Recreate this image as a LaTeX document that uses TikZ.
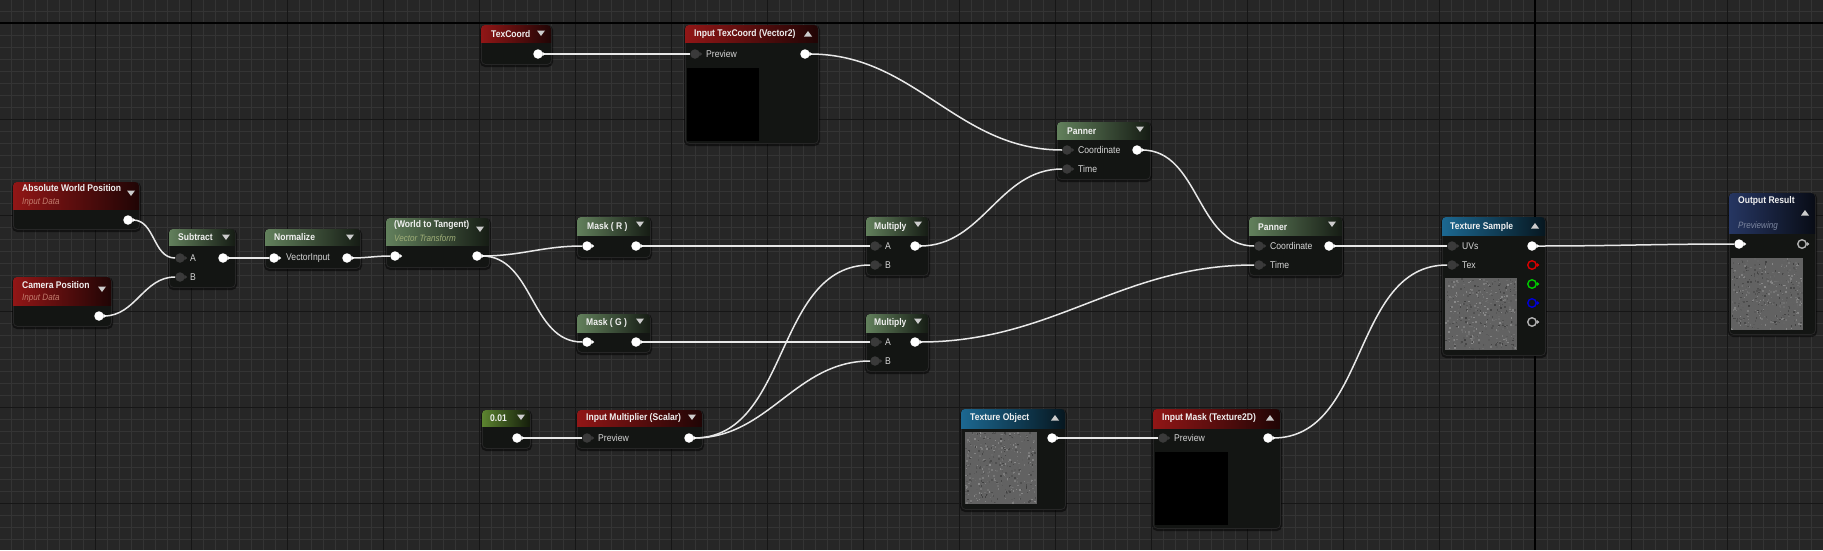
\documentclass[tikz,border=0pt]{standalone}
\usepackage{fontspec}
\setmainfont[FakeStretch=0.88]{Liberation Sans}

\definecolor{canvas}{RGB}{38,38,38}
\definecolor{gridminor}{RGB}{52,52,52}
\definecolor{gridmajor}{RGB}{22,22,22}
\definecolor{body}{RGB}{19,21,19}
\definecolor{hdrred}{RGB}{145,22,22}
\definecolor{hdrgreen}{RGB}{98,128,92}
\definecolor{hdrolive}{RGB}{92,132,48}
\definecolor{hdrblue}{RGB}{28,104,145}
\definecolor{hdrnavy}{RGB}{38,54,98}
\definecolor{pinoff}{RGB}{58,58,58}
\definecolor{wirec}{RGB}{232,232,232}
\definecolor{labelc}{RGB}{215,215,215}
\definecolor{titlec}{RGB}{240,240,240}
\definecolor{subred}{RGB}{195,125,110}
\definecolor{subgreen}{RGB}{160,175,120}
\definecolor{subnavy}{RGB}{125,135,160}
\definecolor{noise}{RGB}{98,98,98}

\tikzset{
  uebody/.style={draw=black!85, fill=body, rounded corners=4, inner sep=0, line width=0.8},
  ttl/.style={anchor=west, inner sep=0, text=titlec, font=\fontsize{9.7}{10}\selectfont\bfseries},
  subttl/.style={anchor=west, inner sep=0, font=\fontsize{9.2}{10}\selectfont\itshape},
  lbl/.style={anchor=west, inner sep=0, text=labelc, font=\fontsize{9.8}{10}\selectfont},
  pinon/.style={circle, fill=white, inner sep=0, minimum size=9.5},
  pinoff/.style={circle, fill=pinoff, inner sep=0, minimum size=9.5},
  pinring/.style={circle, draw=#1, fill=body, line width=1.4, inner sep=0, minimum size=8.5},
  wire/.style={draw=wirec, line width=1.5},
}

% node box: id, x1, y1, x2, y2, header bottom, header colour
\newcommand{\matbox}[7]{%
  \fill[black, opacity=0.5, rounded corners=5] (#2-1,#3) rectangle (#4+2,#5+3);
  \node[uebody, anchor=north west, minimum width=#4-#2, minimum height=#5-#3] (#1) at (#2,#3) {};
  \begin{scope}
    \clip[rounded corners=4] (#2,#3) rectangle (#4,#5);
    \shade[left color=#7, right color=#7!22!black] (#2,#3) rectangle (#4,#6);
  \end{scope}}
\newcommand{\hdrdown}[2]{\fill[black!20] (#1-4,#2-2.5) -- (#1+4,#2-2.5) -- (#1,#2+3) -- cycle;}
\newcommand{\hdrup}[2]{\fill[black!20] (#1-4,#2+2.5) -- (#1+4,#2+2.5) -- (#1,#2-3) -- cycle;}
% noisy texture preview, top left corner
\newcommand{\noisebox}[2]{%
  \fill[noise] (#1,#2) rectangle (#1+72,#2+72);
  \foreach \i in {1,...,420} {
    \pgfmathsetmacro{\nx}{#1+rnd*70.5}
    \pgfmathsetmacro{\ny}{#2+rnd*70.5}
    \pgfmathtruncatemacro{\nv}{65+rnd*75}
    \definecolor{nz}{RGB}{\nv,\nv,\nv}
    \fill[nz] (\nx,\ny) rectangle ++(1.5,1.5);
  }}

\begin{document}
\begin{tikzpicture}[x=1pt, y=-1pt]
  \useasboundingbox (0,0) rectangle (1823,550);
  \fill[canvas] (0,0) rectangle (1823,550);
  \pgfmathsetseed{11}

  % grid
  \foreach \gx in {11,23,...,1823} \draw[gridminor, line width=1] (\gx,0) -- (\gx,550);
  \foreach \gy in {11,23,...,550} \draw[gridminor, line width=1] (0,\gy) -- (1823,\gy);
  \foreach \gx in {95,191,...,1823} \draw[gridmajor, line width=1] (\gx,0) -- (\gx,550);
  \foreach \gy in {23,119,...,550} \draw[gridmajor, line width=1] (0,\gy) -- (1823,\gy);
  \draw[black, line width=1.6] (1535,0) -- (1535,550);
  \draw[black, line width=1.6] (0,23) -- (1823,23);

  % boxes
  \matbox{awp}{13}{182}{139}{229}{209}{hdrred}
  \matbox{cam}{13}{277}{111}{326}{305}{hdrred}
  \matbox{sub}{169}{229}{235}{287}{245}{hdrgreen}
  \matbox{norm}{265}{229}{360}{268}{245}{hdrgreen}
  \matbox{w2t}{386}{218}{489}{267}{245}{hdrgreen}
  \matbox{texc}{481}{25}{551}{64}{42}{hdrred}
  \matbox{itc}{685}{25}{818}{143}{42}{hdrred}
  \matbox{pan1}{1057}{122}{1150}{179}{139}{hdrgreen}
  \matbox{pan2}{1249}{217}{1342}{275}{235}{hdrgreen}
  \matbox{mr}{577}{217}{650}{257}{235}{hdrgreen}
  \matbox{mg}{577}{314}{650}{352}{332}{hdrgreen}
  \matbox{mul1}{866}{217}{928}{275}{235}{hdrgreen}
  \matbox{mul2}{866}{314}{928}{371}{332}{hdrgreen}
  \matbox{cst}{482}{410}{530}{448}{426}{hdrolive}
  \matbox{imul}{577}{410}{702}{448}{426}{hdrred}
  \matbox{tobj}{961}{409}{1065}{509}{428}{hdrblue}
  \matbox{imask}{1153}{409}{1280}{528}{428}{hdrred}
  \matbox{ts}{1442}{217}{1545}{355}{235}{hdrblue}
  \matbox{outr}{1729}{193}{1815}{334}{233}{hdrnavy}

  % titles
  \node[ttl] (awp-t) at (22,188) {Absolute World Position};
  \node[subttl, text=subred] (awp-s) at (22,202) {Input Data};
  \node[ttl] (cam-t) at (22,285) {Camera Position};
  \node[subttl, text=subred] (cam-s) at (22,298) {Input Data};
  \node[ttl] (sub-t) at (178,237) {Subtract};
  \node[ttl] (norm-t) at (274,237) {Normalize};
  \node[ttl] (w2t-t) at (394,225) {(World to Tangent)};
  \node[subttl, text=subgreen] (w2t-s) at (394,238) {Vector Transform};
  \node[ttl] (texc-t) at (491,34) {TexCoord};
  \node[ttl] (itc-t) at (694,34) {Input TexCoord (Vector2)};
  \node[ttl] (pan1-t) at (1067,131) {Panner};
  \node[ttl] (pan2-t) at (1258,227) {Panner};
  \node[ttl] (mr-t) at (587,227) {Mask ( R )};
  \node[ttl] (mg-t) at (586,323) {Mask ( G )};
  \node[ttl] (mul1-t) at (874,227) {Multiply};
  \node[ttl] (mul2-t) at (874,323) {Multiply};
  \node[ttl] (cst-t) at (490,418) {0.01};
  \node[ttl] (imul-t) at (586,418) {Input Multiplier (Scalar)};
  \node[ttl] (tobj-t) at (970,418) {Texture Object};
  \node[ttl] (imask-t) at (1162,418) {Input Mask (Texture2D)};
  \node[ttl] (ts-t) at (1450,227) {Texture Sample};
  \node[ttl] (outr-t) at (1738,201) {Output Result};
  \node[subttl, text=subnavy] (outr-s) at (1738,226) {Previewing};

  % header triangles
  \hdrdown{131}{193} \hdrdown{102}{289} \hdrdown{226}{237} \hdrdown{350}{237}
  \hdrdown{480}{229} \hdrdown{541}{33} \hdrdown{1140}{129} \hdrdown{1332}{224}
  \hdrdown{640}{224} \hdrdown{640}{321} \hdrdown{918}{224} \hdrdown{918}{321}
  \hdrdown{521}{417} \hdrdown{692}{417}
  \hdrup{808}{34} \hdrup{1535}{226} \hdrup{1805}{213} \hdrup{1055}{418} \hdrup{1270}{418}

  % previews
  \fill[black] (687,68) rectangle (759,141);
  \fill[black] (1155,452) rectangle (1228,525);
  \noisebox{965}{432}
  \noisebox{1445}{278}
  \noisebox{1731}{258}

  % pin labels
  \node[lbl] (sub-la) at (190,258) {A};
  \node[lbl] (sub-lb) at (190,277) {B};
  \node[lbl] (norm-l) at (286,258) {VectorInput};
  \node[lbl] (itc-l) at (706,54) {Preview};
  \node[lbl] (mul1-la) at (885,246) {A};
  \node[lbl] (mul1-lb) at (885,265) {B};
  \node[lbl] (mul2-la) at (885,342) {A};
  \node[lbl] (mul2-lb) at (885,361) {B};
  \node[lbl] (imul-l) at (598,438) {Preview};
  \node[lbl] (pan1-lc) at (1078,150) {Coordinate};
  \node[lbl] (pan1-lt) at (1078,169) {Time};
  \node[lbl] (pan2-lc) at (1270,246) {Coordinate};
  \node[lbl] (pan2-lt) at (1270,265) {Time};
  \node[lbl] (ts-luv) at (1462,246) {UVs};
  \node[lbl] (ts-ltex) at (1462,265) {Tex};
  \node[lbl] (imask-l) at (1174,438) {Preview};

  % pins
  \node[pinon] (awp-o) at (128,220) {};
  \node[pinon] (cam-o) at (99,316) {};
  \node[pinoff] (sub-a) at (180,258) {};
  \node[pinoff] (sub-b) at (180,277) {};
  \node[pinon] (sub-o) at (223,258) {};
  \node[pinon] (norm-i) at (274,258) {};
  \node[pinon] (norm-o) at (347,258) {};
  \node[pinon] (w2t-i) at (395,256) {};
  \node[pinon] (w2t-o) at (477,256) {};
  \node[pinon] (texc-o) at (538,54) {};
  \node[pinoff] (itc-p) at (695,54) {};
  \node[pinon] (itc-o) at (805,54) {};
  \node[pinon] (mr-i) at (587,246) {};
  \node[pinon] (mr-o) at (636,246) {};
  \node[pinon] (mg-i) at (587,342) {};
  \node[pinon] (mg-o) at (636,342) {};
  \node[pinoff] (mul1-a) at (875,246) {};
  \node[pinoff] (mul1-b) at (875,265) {};
  \node[pinon] (mul1-o) at (915,246) {};
  \node[pinoff] (mul2-a) at (875,342) {};
  \node[pinoff] (mul2-b) at (875,361) {};
  \node[pinon] (mul2-o) at (915,342) {};
  \node[pinon] (cst-o) at (517,438) {};
  \node[pinoff] (imul-p) at (587,438) {};
  \node[pinon] (imul-o) at (689,438) {};
  \node[pinoff] (pan1-c) at (1067,150) {};
  \node[pinoff] (pan1-t) at (1067,169) {};
  \node[pinon] (pan1-o) at (1137,150) {};
  \node[pinoff] (pan2-c) at (1259,246) {};
  \node[pinoff] (pan2-t) at (1259,265) {};
  \node[pinon] (pan2-o) at (1329,246) {};
  \node[pinon] (tobj-o) at (1052,438) {};
  \node[pinoff] (imask-p) at (1163,438) {};
  \node[pinon] (imask-o) at (1268,438) {};
  \node[pinoff] (ts-uv) at (1452,246) {};
  \node[pinoff] (ts-tex) at (1452,265) {};
  \node[pinon] (ts-o) at (1532,246) {};
  \node[pinring=red!85!black] (ts-r) at (1532,265) {};
  \node[pinring=green!80!black] (ts-g) at (1532,284) {};
  \node[pinring=blue!85!black] (ts-b) at (1532,303) {};
  \node[pinring=black!30] (ts-a) at (1532,322) {};
  \node[pinon] (outr-i) at (1739,244) {};
  \node[pinring=black!30] (outr-o) at (1802,244) {};

  % wires
  \draw[wire] (awp-o) to[out=0,in=180] (sub-a);
  \draw[wire] (cam-o) to[out=0,in=180] (sub-b);
  \draw[wire] (sub-o) to[out=0,in=180] (norm-i);
  \draw[wire] (norm-o) to[out=0,in=180] (w2t-i);
  \draw[wire] (w2t-o) to[out=0,in=180] (mr-i);
  \draw[wire] (w2t-o) to[out=0,in=180] (mg-i);
  \draw[wire] (texc-o) to[out=0,in=180] (itc-p);
  \draw[wire] (itc-o) to[out=0,in=180] (pan1-c);
  \draw[wire] (mr-o) to[out=0,in=180] (mul1-a);
  \draw[wire] (mg-o) to[out=0,in=180] (mul2-a);
  \draw[wire] (cst-o) to[out=0,in=180] (imul-p);
  \draw[wire] (imul-o) to[out=0,in=180] (mul1-b);
  \draw[wire] (imul-o) to[out=0,in=180] (mul2-b);
  \draw[wire] (mul1-o) to[out=0,in=180] (pan1-t);
  \draw[wire] (pan1-o) to[out=0,in=180] (pan2-c);
  \draw[wire] (mul2-o) to[out=0,in=180] (pan2-t);
  \draw[wire] (pan2-o) to[out=0,in=180] (ts-uv);
  \draw[wire] (tobj-o) to[out=0,in=180] (imask-p);
  \draw[wire] (imask-o) to[out=0,in=180] (ts-tex);
  \draw[wire] (ts-o) to[out=0,in=180] (outr-i);

  % pin tips
  \foreach \p in {awp-o,cam-o,sub-o,norm-i,norm-o,w2t-i,w2t-o,texc-o,itc-o,mr-i,mr-o,mg-i,mg-o,
      mul1-o,mul2-o,cst-o,imul-o,pan1-o,pan2-o,tobj-o,imask-o,ts-o,outr-i}
    \fill[white] (\p.east) ++(-0.5,2.2) -- ++(2.8,-2.2) -- ++(-2.8,-2.2) -- cycle;
  \foreach \p in {sub-a,sub-b,itc-p,mul1-a,mul1-b,mul2-a,mul2-b,imul-p,pan1-c,pan1-t,pan2-c,pan2-t,
      imask-p,ts-uv,ts-tex}
    \fill[pinoff] (\p.east) ++(-0.5,2.2) -- ++(2.8,-2.2) -- ++(-2.8,-2.2) -- cycle;
  \fill[red!85!black] (ts-r.east) ++(0,2) -- ++(2.5,-2) -- ++(-2.5,-2) -- cycle;
  \fill[green!80!black] (ts-g.east) ++(0,2) -- ++(2.5,-2) -- ++(-2.5,-2) -- cycle;
  \fill[blue!85!black] (ts-b.east) ++(0,2) -- ++(2.5,-2) -- ++(-2.5,-2) -- cycle;
  \fill[black!30] (ts-a.east) ++(0,2) -- ++(2.5,-2) -- ++(-2.5,-2) -- cycle;
  \fill[black!30] (outr-o.east) ++(0,2) -- ++(2.5,-2) -- ++(-2.5,-2) -- cycle;
\end{tikzpicture}
\end{document}
